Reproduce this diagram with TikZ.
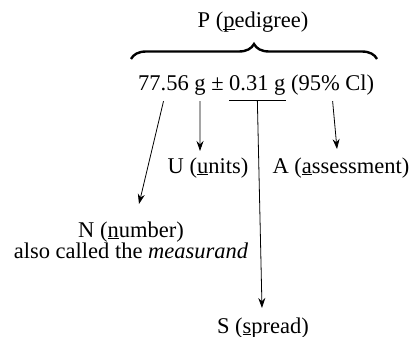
\documentclass[tikz,border=0pt]{standalone}
\usepackage{fontspec}
\setmainfont{Liberation Serif}
\usetikzlibrary{arrows.meta,decorations.pathreplacing}

% letter underlined just below the baseline
\newcommand{\ulet}[1]{\setbox0\hbox{#1}\rlap{\rule[-2.2pt]{\wd0}{0.8pt}}#1}

\tikzset{
  txt/.style={inner sep=0pt,font=\fontsize{22.5}{21}\selectfont},
  part/.style={txt,anchor=base west,inner ysep=2pt,text depth=7pt},
  arr/.style={line width=0.8pt,-{Stealth[length=10pt,width=7pt]}}
}

\begin{document}
\begin{tikzpicture}[x=1pt,y=-1pt]
  \useasboundingbox (0,0) rectangle (415,337);
  % the result and its pieces
  \node[part] (num) at (138,91) {77.56};
  \node[part] (unit) at ([xshift=5.2pt]num.base east) {g};
  \node[part] (pm) at ([xshift=5.2pt]unit.base east) {±};
  \node[part] (spread) at ([xshift=5.2pt]pm.base east) {0.31 g};
  \node[part] (ci) at ([xshift=5.2pt]spread.base east) {(95\% Cl)};
  % labels
  \node[txt,anchor=base] (ped) at (253,28) {P (\ulet{p}edigree)};
  \node[txt,anchor=base] (ulab) at (208,173) {U (\ulet{u}nits)};
  \node[txt,anchor=base] (alab) at (341,173) {A (\ulet{a}ssessment)};
  \node[txt,anchor=base,align=center] (nlab) at (131,258) {N (\ulet{n}umber)\\also called the \textit{measurand}};
  \node[txt,anchor=base] (slab) at (263,333) {S (\ulet{s}pread)};
  \coordinate (ntip) at (139,204);
  \coordinate (utip) at (200,151);
  \coordinate (stip) at (262,308);
  \coordinate (atip) at (337,149);
  % brace over the whole result
  \draw[line width=2.4pt,decorate,decoration={brace,amplitude=15pt}] (131,59) -- (377,59);
  \draw[line width=0.8pt] (spread.south west) -- (spread.south east);
  \draw[arr] ([yshift=-1pt]num.south) -- (ntip);
  \draw[arr] ([yshift=-1pt]unit.south) -- (utip);
  \draw[arr] (spread.south) -- (stip);
  \draw[arr] ([yshift=-1pt]ci.south) -- (atip);
\end{tikzpicture}
\end{document}
